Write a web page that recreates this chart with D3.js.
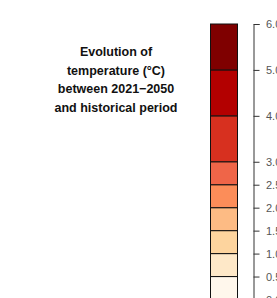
<!DOCTYPE html>
<html>
<head>
<meta charset="utf-8">
<script src="https://cdn.jsdelivr.net/npm/d3@7"></script>
<style>
  body { margin: 0; background: #fff; }
  svg { display: block; }
  .axis path, .axis line { stroke: #333; }
  .axis text { fill: #555; font-family: "Liberation Sans", Arial, sans-serif; font-size: 11px; }
</style>
</head>
<body>
<svg id="chart" width="277" height="298"></svg>
<script>
// class breaks of the legend (°C)
const breaks = [0, 0.5, 1, 1.5, 2, 2.5, 3, 4, 5, 6];
const colors = ["#fff7ec", "#fee8c8", "#fdd49e", "#fdbb84", "#fc8d59", "#ef6548", "#d7301f", "#b30000", "#7f0000"];
const tickValues = [0, 0.5, 1, 1.5, 2, 2.5, 3, 4, 5, 6];
const titleLines = ["Evolution of", "temperature (°C)", "between 2021\u22122050", "and historical period"];

const svg = d3.select('#chart');

let y = d3.scaleLinear().domain([0, 6]).range([299.5, 24]);

// colour cells
let cells = d3.range(colors.length).map(i => ({lo: breaks[i], hi: breaks[i + 1], c: colors[i]}));

svg.append('g').selectAll('rect')
  .data(cells)
  .enter()
  .append('rect')
  .attr('x', 210.5)
  .attr('y', d => y(d.hi))
  .attr('width', 27)
  .attr('height', d => y(d.lo) - y(d.hi))
  .style('fill', d => d.c)
  .style('stroke', '#111')
  .style('stroke-width', 1);

// axis
svg.append('g')
  .attr('class', 'axis')
  .attr('transform', 'translate(253.5,0)')
  .call(d3.axisRight(y).tickValues(tickValues).tickFormat(d3.format('.1f')).tickSize(6).tickPadding(6.5))
  .call(g => g.selectAll('text').attr('dy', '0.35em'));

// title
svg.append('g').selectAll('text')
  .data(titleLines)
  .enter()
  .append('text')
  .attr('x', 116)
  .attr('y', (d, i) => 56 + i * 18.6)
  .attr('text-anchor', 'middle')
  .style('font-family', '"Liberation Sans", Arial, sans-serif')
  .style('font-weight', 'bold')
  .style('font-size', '12.5px')
  .style('fill', '#111')
  .text(d => d);
</script>
</body>
</html>
